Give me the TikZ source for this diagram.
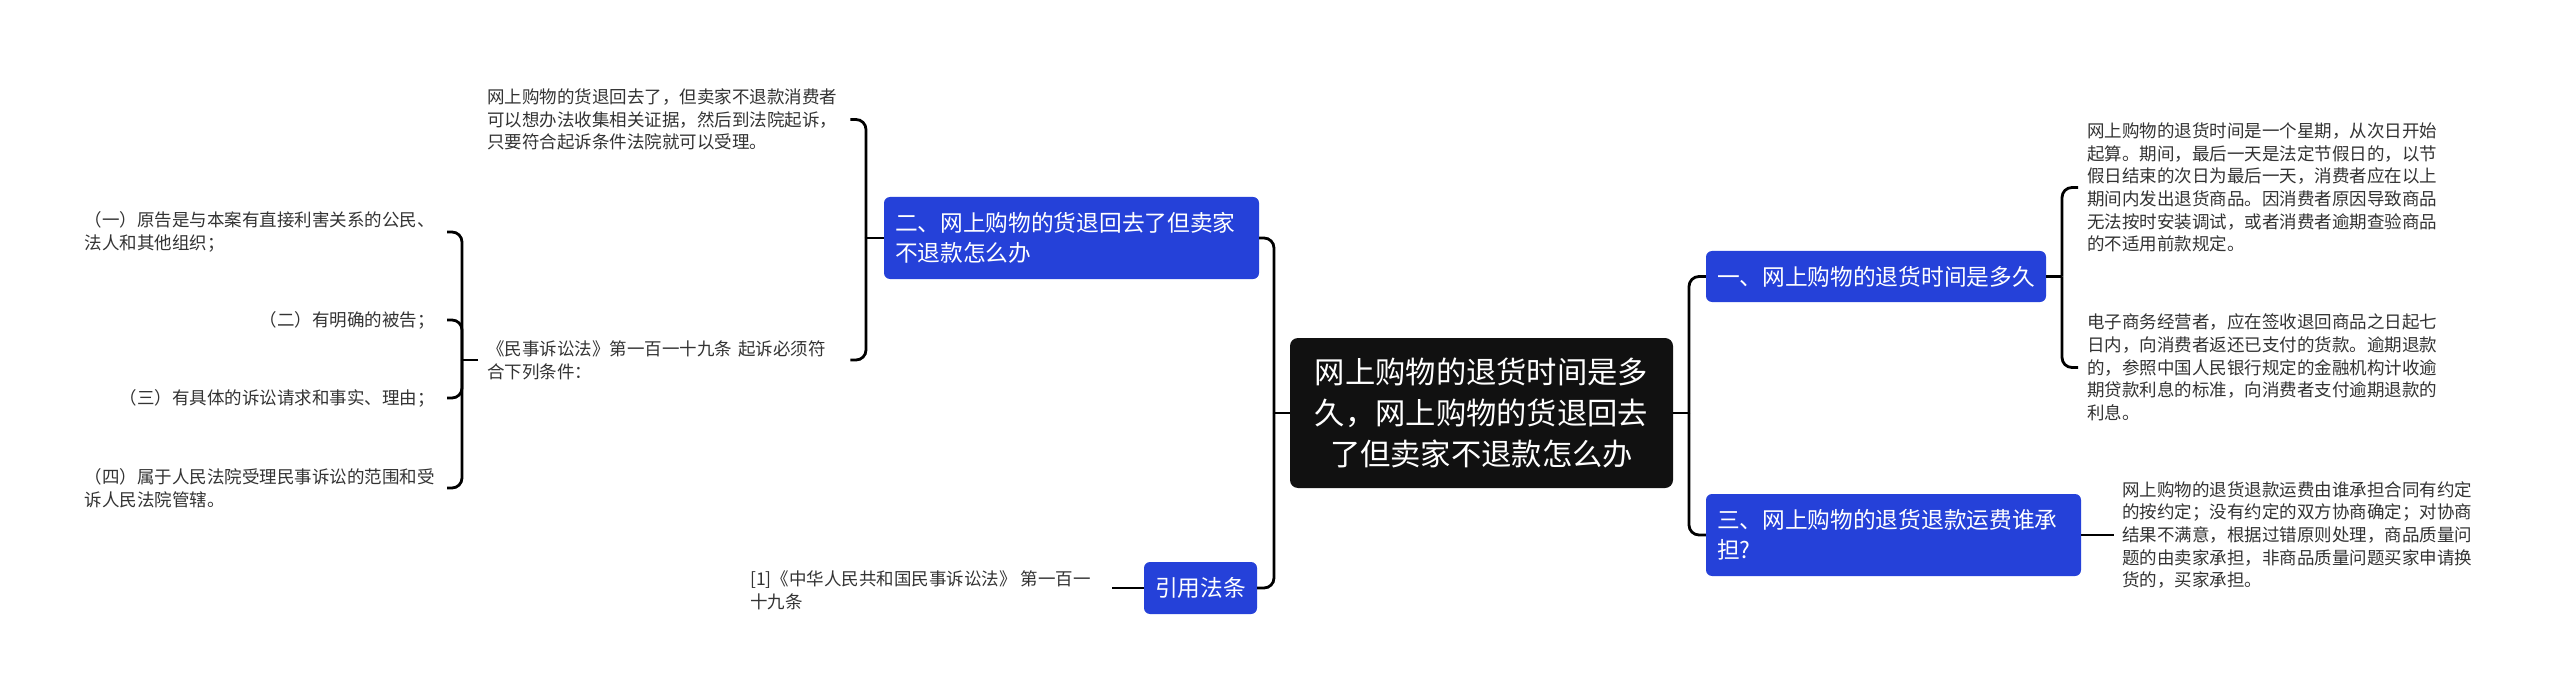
\documentclass[tikz,border=0pt]{standalone}
\usepackage{fontspec}
\setmainfont{Noto Sans CJK SC}
\definecolor{rootblack}{HTML}{111111}
\definecolor{mmblue}{HTML}{2541D9}
\definecolor{leafgray}{HTML}{333333}
\tikzset{
  rootbox/.style={fill=rootblack, text=white, rounded corners=8pt, minimum width=383pt, minimum height=150pt, align=center, inner sep=0pt, font=\fontsize{30.3pt}{41pt}\selectfont},
  bluebox/.style={fill=mmblue, text=white, rounded corners=6pt, inner xsep=11pt, inner ysep=0pt, align=left, font=\fontsize{22.7pt}{30pt}\selectfont},
  leaf/.style={text=leafgray, inner sep=0pt, align=left, font=\fontsize{17.5pt}{22.7pt}\selectfont},
  conn/.style={draw=black, line width=2.8pt, rounded corners=10pt},
}
\begin{document}
\begin{tikzpicture}[x=1pt,y=-1pt]
\useasboundingbox (0,0) rectangle (2560,695);
\fill[white] (0,0) rectangle (2560,695);

% central node
\node[rootbox] (root) at (1481.5,413) {网上购物的退货时间是多\\久，网上购物的货退回去\\了但卖家不退款怎么办};

% main branches
\node[bluebox, text width=318pt, minimum height=51pt] (n1) at (1876,276.5) {一、网上购物的退货时间是多久};
\node[bluebox, text width=353pt, minimum height=82pt] (n3) at (1893.5,535) {三、网上购物的退货退款运费谁承\\担?};
\node[bluebox, text width=353pt, minimum height=82pt] (n2) at (1071.5,238) {二、网上购物的货退回去了但卖家\\不退款怎么办};
\node[bluebox, text width=91pt, minimum height=52pt] (ref) at (1200.5,588) {引用法条};

% leaves right
\node[leaf, text width=352pt, anchor=west] (L1a) at (2087,187.5) {网上购物的退货时间是一个星期，从次日开始\\起算。期间，最后一天是法定节假日的，以节\\假日结束的次日为最后一天，消费者应在以上\\期间内发出退货商品。因消费者原因导致商品\\无法按时安装调试，或者消费者逾期查验商品\\的不适用前款规定。};
\node[leaf, text width=352pt, anchor=west] (L1b) at (2087,367.5) {电子商务经营者，应在签收退回商品之日起七\\日内，向消费者返还已支付的货款。逾期退款\\的，参照中国人民银行规定的金融机构计收逾\\期贷款利息的标准，向消费者支付逾期退款的\\利息。};
\node[leaf, text width=352pt, anchor=west] (L3) at (2122,535) {网上购物的退货退款运费由谁承担合同有约定\\的按约定；没有约定的双方协商确定；对协商\\结果不满意，根据过错原则处理，商品质量问\\题的由卖家承担，非商品质量问题买家申请换\\货的，买家承担。};

% leaves left
\node[leaf, text width=350pt, anchor=west] (L2a) at (487,119.5) {网上购物的货退回去了，但卖家不退款消费者\\可以想办法收集相关证据，然后到法院起诉，\\只要符合起诉条件法院就可以受理。};
\node[leaf, text width=350pt, anchor=west] (L2b) at (487,360) {《民事诉讼法》第一百一十九条 起诉必须符\\合下列条件：};
\node[leaf, anchor=west] (Lref) at (750,590) {[1]《中华人民共和国民事诉讼法》 第一百一\\十九条};

\node[leaf, text width=350pt, anchor=east] (S1) at (435,232) {（一）原告是与本案有直接利害关系的公民、\\法人和其他组织；};
\node[leaf, anchor=east] (S2) at (435,320) {（二）有明确的被告；};
\node[leaf, anchor=east] (S3) at (435,398) {（三）有具体的诉讼请求和事实、理由；};
\node[leaf, text width=350pt, anchor=east] (S4) at (435,488) {（四）属于人民法院受理民事诉讼的范围和受\\诉人民法院管辖。};

% junction coordinates
\coordinate (jR) at (1689,413);
\coordinate (jL) at (1274,413);
\coordinate (j1) at (2062,276.5);
\coordinate (j2) at (866,238);
\coordinate (j2b) at (462,360);
\coordinate (refend) at (1112,588);

% connectors
\draw[conn] (root.east) -- (jR);
\draw[conn] (jR) |- (n1.west);
\draw[conn] (jR) |- (n3.west);
\draw[conn] (root.west) -- (jL);
\draw[conn] (jL) |- (n2.east);
\draw[conn] (jL) |- (ref.east);

\draw[conn] (n1.east) -- (j1);
\draw[conn] (j1) |- ([xshift=-9pt]L1a.west);
\draw[conn] (j1) |- ([xshift=-9pt]L1b.west);
\draw[conn] (n3.east) -- ([xshift=-8pt]L3.west);

\draw[conn] (n2.west) -- (j2);
\draw[conn] (j2) |- ([xshift=13pt]L2a.east);
\draw[conn] (j2) |- ([xshift=13pt]L2b.east);
\draw[conn] (ref.west) -- (refend);

\draw[conn] ([xshift=-9pt]L2b.west) -- (j2b);
\draw[conn] (j2b) |- ([xshift=12pt]S1.east);
\draw[conn] (j2b) |- ([xshift=12pt]S2.east);
\draw[conn] (j2b) |- ([xshift=12pt]S3.east);
\draw[conn] (j2b) |- ([xshift=12pt]S4.east);
\end{tikzpicture}
\end{document}
